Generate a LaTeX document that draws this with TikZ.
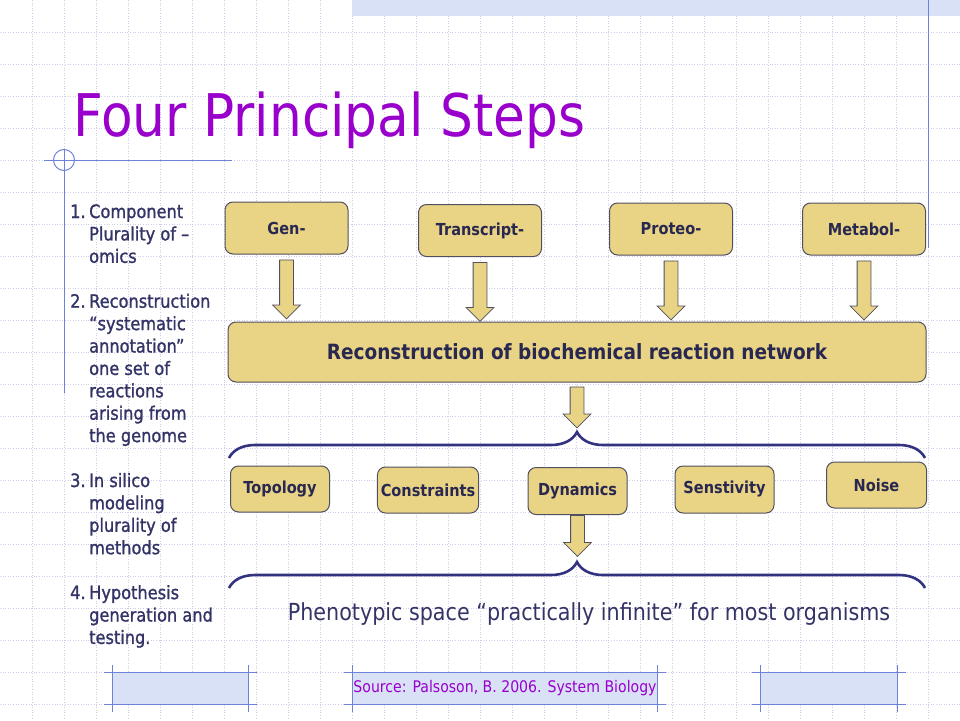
\documentclass[tikz,border=0pt]{standalone}
\usepackage{fontspec}
\usepackage{xcolor}
\usepackage{tikz}
\usetikzlibrary{calc}
\usetikzlibrary{shapes}
\usetikzlibrary{shapes.arrows}
\usetikzlibrary{decorations.pathreplacing}
\newfontfamily\tah[FakeStretch=0.88]{DejaVu Sans}
\newfontfamily\tahsemi[FakeStretch=0.88, FakeBold=1.2]{DejaVu Sans}
\definecolor{boxfill}{RGB}{233,211,132}
\definecolor{boxline}{RGB}{80,80,96}
\definecolor{boxtext}{RGB}{40,40,80}
\definecolor{listcol}{RGB}{51,51,102}
\definecolor{bracecol}{RGB}{50,50,128}
\definecolor{decoblue}{RGB}{110,130,220}
\definecolor{titlecol}{RGB}{153,0,204}
\definecolor{gridcol}{RGB}{205,205,235}
\definecolor{hatchcol}{RGB}{216,225,246}
\tikzset{>=latex}
\tikzstyle{omic} = [rectangle, rounded corners=8pt, draw=boxline, fill=boxfill, line width=1pt, minimum width=123pt, minimum height=52pt, text=boxtext, font=\tah\bfseries\fontsize{16.5}{18}\selectfont]
\tikzstyle{part} = [omic, minimum width=99pt, minimum height=46pt]
\tikzstyle{fatarrow} = [single arrow, draw=boxline, fill=boxfill, line width=0.8pt, inner xsep=0pt, inner ysep=6.5pt, minimum width=27pt, single arrow head extend=7pt, rotate=-90]
\tikzstyle{curly} = [draw=bracecol, line width=2.6pt, decorate, decoration={brace, amplitude=26pt}]
\tikzstyle{gridline} = [draw=gridcol, dotted, line width=0.6pt]
\tikzstyle{decoline} = [draw=decoblue, line width=1pt]
\tikzstyle{foot} = [rectangle, fill=hatchcol, minimum height=31pt, inner sep=0pt]
\begin{document}
\begin{tikzpicture}[x=1pt, y=-1pt]
\useasboundingbox (0,0) rectangle (960,720);
% background grid and slide decoration
\foreach \g in {32,64,...,928} \draw[gridline] (\g,0) -- (\g,720);
\foreach \g in {32,64,...,704} \draw[gridline] (0,\g) -- (960,\g);
\fill[hatchcol] (352,0) rectangle (960,16);
\draw[decoline] (928,0) -- (928,248);
\draw[decoline] (44,160) -- (232,160);
\draw[decoline] (64,149) -- (64,393);
\draw[decoline] (64,160) circle [radius=10.5pt];
\node [anchor=base west, inner sep=0pt, text=titlecol, font=\tah\fontsize{58.8}{60}\selectfont] (Title) at (73,136) {Four Principal Steps};
% the four steps
\node [anchor=base west, inner sep=0pt, text=listcol, font=\tahsemi\fontsize{18.4}{22.4}\selectfont] (List) at (70,218) {%
\begin{tabular}[t]{@{}p{19pt}@{}l@{}}
1. & Component\\
   & Plurality of –\\
   & omics\\[22.5pt]
2. & Reconstruction\\
   & “systematic\\
   & annotation”\\
   & one set of\\
   & reactions\\
   & arising from\\
   & the genome\\[22.5pt]
3. & In silico\\
   & modeling\\
   & plurality of\\
   & methods\\[22.5pt]
4. & Hypothesis\\
   & generation and\\
   & testing.
\end{tabular}};
% omics
\node [omic] (G) at (286.5,228) {Gen-};
\node [omic] (T) at (480,230.5) {Transcript-};
\node [omic] (P) at (671,229) {Proteo-};
\node [omic] (M) at (864,229) {Metabol-};
\node [omic, minimum width=698pt, minimum height=60pt, font=\tah\bfseries\fontsize{21}{24}\selectfont] (R) at (577,352) {Reconstruction of biochemical reaction network};
\foreach \s in {G,T,P,M}
  \node [fatarrow, minimum height=59pt, anchor=tail] (\s-R) at ($(\s.south)+(0,5)$) {};
\node [fatarrow, minimum height=41pt, anchor=tail] (R-B) at ($(R.south)+(0,4)$) {};
% models
\coordinate (B1w) at (229,458);
\coordinate (B1e) at (925,458);
\draw [curly] (B1w) -- (B1e);
\node [part] (Top) at (280,489) {Topology};
\node [part] (Con) at (428,490) {Constraints};
\node [part, minimum height=47pt] (Dyn) at (577.5,491) {Dynamics};
\node [part, minimum height=47pt] (Sen) at (724.5,489.5) {Senstivity};
\node [part, minimum width=100pt] (Noi) at (876.5,485) {Noise};
\node [fatarrow, minimum height=41pt, anchor=tail] (Dyn-B) at (Dyn.south) {};
\coordinate (B2w) at (229,588);
\coordinate (B2e) at (925,588);
\draw [curly] (B2w) -- (B2e);
\node [text=listcol, font=\tah\fontsize{23.5}{26}\selectfont] (Pheno) at (589,614) {Phenotypic space “practically infinite” for most organisms};
% footer
\node [foot, minimum width=135pt] (FL) at (180.5,688.5) {};
\node [foot, minimum width=304pt, text=titlecol, font=\tah\fontsize{16}{18}\selectfont] (Src) at (505,688.5) {Source: Palsoson, B. 2006. System Biology};
\node [foot, minimum width=136pt] (FR) at (829,688.5) {};
\foreach \f in {FL,Src,FR} {
  \draw[decoline] ($(\f.north west)+(-9,0)$) -- ($(\f.north east)+(9,0)$);
  \draw[decoline] ($(\f.south west)+(-9,0)$) -- ($(\f.south east)+(9,0)$);
  \draw[decoline] ($(\f.north west)+(0,-8)$) -- ($(\f.south west)+(0,8)$);
  \draw[decoline] ($(\f.north east)+(0,-8)$) -- ($(\f.south east)+(0,8)$);
}
\end{tikzpicture}
\end{document}
